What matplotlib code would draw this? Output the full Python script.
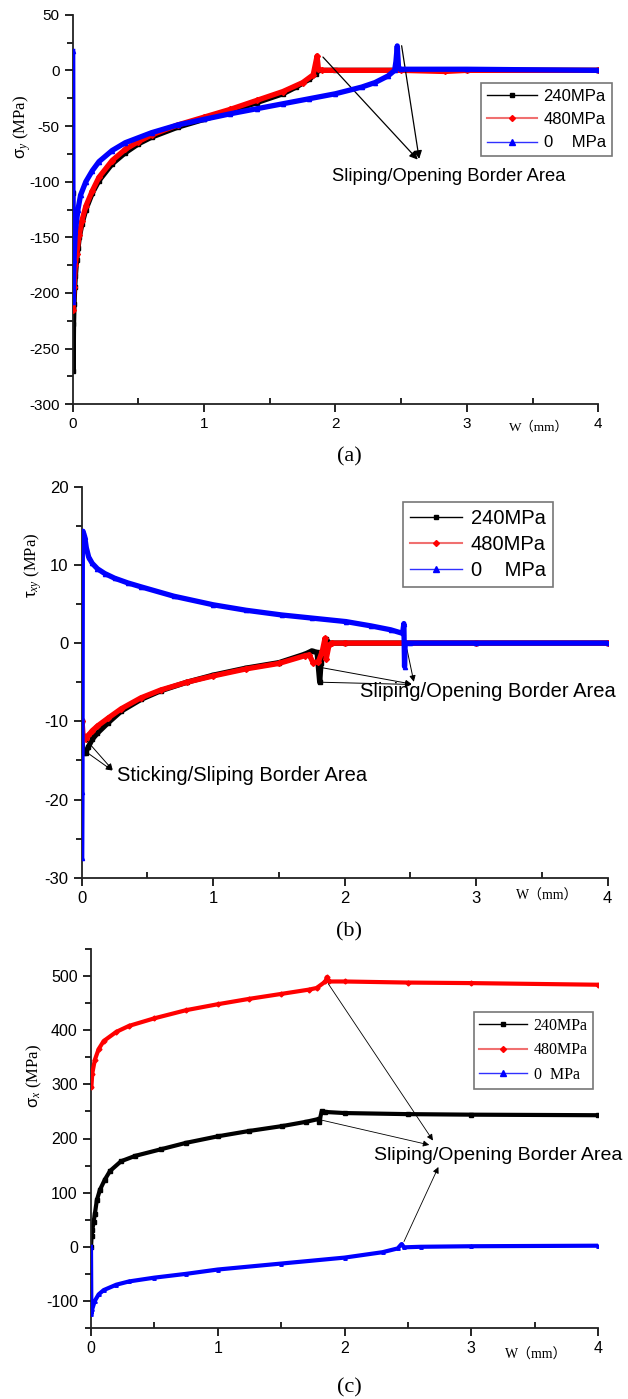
import matplotlib
matplotlib.use("Agg")
import matplotlib.pyplot as plt
from matplotlib.lines import Line2D
from matplotlib.ticker import MultipleLocator

plt.rcParams['font.family'] = ['Liberation Sans', 'Noto Sans CJK SC', 'DejaVu Sans']
plt.rcParams['mathtext.fontset'] = 'custom'
plt.rcParams['mathtext.rm'] = 'Liberation Serif'
plt.rcParams['mathtext.sf'] = 'Liberation Sans'
plt.rcParams['mathtext.it'] = 'Liberation Serif:italic'
plt.rcParams['mathtext.default'] = 'regular'
plt.rcParams['axes.unicode_minus'] = False

# ---------------- data (a) sigma_y ----------------
xa_240 = [0.0, 0.003, 0.006, 0.01, 0.015, 0.02, 0.03, 0.04, 0.05, 0.07, 0.1, 0.15, 0.2, 0.3,
          0.4, 0.5, 0.6, 0.8, 1.0, 1.2, 1.4, 1.6, 1.7, 1.8, 1.85, 1.87, 2.0, 3.0, 4.0]
ya_240 = [-110, -270, -228, -210, -195, -185, -170, -160, -150, -138, -125, -110, -99, -84,
          -74, -66, -60, -51, -44, -37, -29, -21, -15, -8, -3, 0, 0, 0, 0]
xa_480 = [0.003, 0.01, 0.02, 0.03, 0.05, 0.07, 0.1, 0.15, 0.2, 0.3, 0.4, 0.5, 0.6, 0.8, 1.0,
          1.2, 1.4, 1.6, 1.75, 1.83, 1.86, 1.87, 1.9, 2.5, 2.83, 3.0, 4.0]
ya_480 = [-215, -195, -175, -165, -148, -135, -122, -108, -96, -81, -71, -64, -58, -49, -42,
          -35, -27, -19, -11, -4, 13, 1, 0, 0, -1, 0, 0]
xa_0 = [0.0, 0.003, 0.01, 0.02, 0.04, 0.06, 0.1, 0.15, 0.2, 0.3, 0.4, 0.6, 0.8, 1.0, 1.2,
        1.4, 1.6, 1.8, 2.0, 2.2, 2.3, 2.4, 2.45, 2.46, 2.47, 2.48, 2.5, 3.0, 4.0]
ya_0 = [17, -208, -170, -145, -125, -112, -100, -90, -82, -72, -65, -56, -49, -44, -39,
        -34.5, -30, -25.5, -21, -15, -11, -5, 0, 8, 22, 2, 1, 1, 0]

# ---------------- data (b) tau_xy ----------------
xb_240 = [0.0, 0.005, 0.015, 0.03, 0.05, 0.08, 0.12, 0.2, 0.3, 0.45, 0.6, 0.8, 1.0, 1.25, 1.5,
          1.7, 1.75, 1.79, 1.81, 1.82, 1.84, 1.86, 1.88, 2.0, 3.0, 4.0]
yb_240 = [-10, -13.5, -14, -14, -13.3, -12.3, -11.5, -10.2, -8.7, -7.2, -6.1, -5.0, -4.1, -3.2, -2.5,
          -1.4, -1.0, -1.2, -5.0, -2.5, -1.0, 0.5, 0.0, 0.0, 0.0, 0.0]
xb_480 = [0.003, 0.01, 0.02, 0.03, 0.05, 0.08, 0.12, 0.2, 0.3, 0.45, 0.6, 0.8, 1.0, 1.25, 1.5,
          1.7, 1.73, 1.76, 1.8, 1.83, 1.85, 1.86, 1.88, 1.9, 2.0, 3.0, 4.0]
yb_480 = [-10, -11.8, -12.2, -12.2, -11.8, -11.2, -10.6, -9.6, -8.4, -7.0, -6.0, -5.0, -4.2, -3.3, -2.6,
          -1.6, -1.5, -2.5, -2.4, -1.0, 0.6, -2.0, -0.3, 0.0, 0.0, 0.0, 0.0]
xb_0 = [0.0, 0.002, 0.005, 0.01, 0.023, 0.035, 0.053, 0.08, 0.12, 0.175, 0.25, 0.35, 0.45, 0.7,
        1.0, 1.25, 1.52, 1.75, 2.01, 2.2, 2.35, 2.44, 2.45, 2.455, 2.46, 2.5, 3.0, 4.0]
yb_0 = [-27.5, -19, 14, 14.3, 13.6, 12.2, 11.0, 10.2, 9.5, 8.9, 8.3, 7.7, 7.2, 6.0,
        4.9, 4.2, 3.6, 3.2, 2.75, 2.2, 1.7, 1.25, 2.5, -3.0, 0.0, 0.0, 0.0, 0.0]

# ---------------- data (c) sigma_x ----------------
xc_240 = [0.0, 0.005, 0.01, 0.02, 0.03, 0.046, 0.07, 0.109, 0.15, 0.237, 0.35, 0.55, 0.75, 1.0,
          1.25, 1.51, 1.7, 1.795, 1.8, 1.82, 1.85, 2.0, 2.5, 3.0, 4.0]
yc_240 = [0, 20, 31, 45, 60, 86, 105, 124, 140, 158, 168, 180, 192, 204,
          214, 223, 231, 236, 230, 250, 249, 247, 245, 244, 243]
xc_480 = [0.003, 0.01, 0.03, 0.06, 0.1, 0.2, 0.3, 0.5, 0.75, 1.0, 1.25, 1.5, 1.72, 1.78,
          1.85, 1.86, 1.88, 2.0, 2.5, 3.0, 4.0]
yc_480 = [295, 320, 345, 365, 380, 397, 408, 422, 437, 448, 458, 467, 475, 478,
          490, 498, 490, 490, 488, 487, 484]
xc_0 = [0.0, 0.003, 0.01, 0.03, 0.06, 0.1, 0.2, 0.3, 0.5, 0.75, 1.0, 1.5, 2.0, 2.3,
        2.42, 2.45, 2.47, 2.6, 3.0, 4.0]
yc_0 = [0, -125, -115, -100, -88, -80, -70, -64, -57, -50, -42, -31, -20, -10,
        -3, 5, -1, 0, 1, 2]

labels = ['240MPa', '480MPa', '0    MPa']
colors = ['black', 'red', 'blue']
markers = ['s', 'D', '^']

W, H = 628, 1399
fig = plt.figure(figsize=(W / 100, H / 100), dpi=100)


def axes_px(left, right, top, bottom):
    return fig.add_axes([left / W, 1 - bottom / H, (right - left) / W, (bottom - top) / H])


def style(ax, ylim, ymaj, ymin, fs):
    ax.set_xlim(0, 4)
    ax.set_ylim(*ylim)
    ax.xaxis.set_major_locator(MultipleLocator(1))
    ax.xaxis.set_minor_locator(MultipleLocator(0.5))
    ax.yaxis.set_major_locator(MultipleLocator(ymaj))
    ax.yaxis.set_minor_locator(MultipleLocator(ymin))
    for s in ['top', 'right']:
        ax.spines[s].set_visible(False)
    for s in ['left', 'bottom']:
        ax.spines[s].set_linewidth(1.3)
        ax.spines[s].set_color('#222222')
    ax.tick_params(which='major', direction='out', length=6, width=1.2, labelsize=fs)
    ax.tick_params(axis='x', which='minor', direction='in', length=4, width=1.2)
    ax.tick_params(axis='y', which='minor', direction='out', length=4, width=1.2)
    ax.xaxis.set_major_formatter(plt.FuncFormatter(lambda v, p: '%g' % v))


def draw(ax, xs, ys, lw, ms):
    for i in range(3):
        ax.plot(xs[i], ys[i], color=colors[i], lw=lw, marker=markers[i], ms=ms,
                solid_joinstyle='round', zorder=2 + i)


def legend(ax, x, y, fs, labs, family=None, spacing=0.35, hl=2.6):
    handles = [Line2D([], [], color='black', lw=1, marker='s', ms=3),
               Line2D([], [], color='#f07070', lw=1.5, marker='D', markerfacecolor='red',
                      markeredgecolor='red', ms=3),
               Line2D([], [], color='#3030ff', lw=1, marker='^', markerfacecolor='blue',
                      markeredgecolor='blue', ms=4)]
    prop = {'size': fs}
    if family:
        prop['family'] = family
    leg = ax.legend(handles, labs, loc='upper left', bbox_to_anchor=(x, y), borderaxespad=0,
                    frameon=True, fancybox=False, prop=prop, handlelength=hl, handletextpad=0.4,
                    labelspacing=spacing, borderpad=0.35)
    leg.get_frame().set_edgecolor('#555555')
    leg.get_frame().set_linewidth(1.2)


arrow = dict(arrowstyle='-|>', color='black', lw=0.9, mutation_scale=12)
serif = 'Liberation Serif'

# ---------------- (a) ----------------
ax = axes_px(72.7, 598.3, 14.7, 404.3)
draw(ax, [xa_240, xa_480, xa_0], [ya_240, ya_480, ya_0], 3.8, 3)
style(ax, (-300, 50), 50, 25, 11)
ax.set_ylabel(r'$\mathsf{\sigma}_{\mathit{y}}$ (MPa) ', family=serif, fontsize=12)
ax.yaxis.set_label_coords(-0.0755, 0.712)
ax.set_xlabel('W（mm）', family=[serif, 'Noto Sans CJK SC'], fontsize=9.5)
ax.xaxis.set_label_coords(0.887, -0.043)
legend(ax, 0.777, 0.825, 12, labels, spacing=0.5, hl=3.0)
for xy in [(1.89, 13.8), (2.50, 24.6)]:
    ax.annotate('', xy=(2.64, -82), xytext=xy, arrowprops=arrow)
ax.text(1.97, -95, 'Sliping/Opening Border Area', fontsize=13.2, va='center', ha='left')

# ---------------- (b) ----------------
ax = axes_px(81.7, 607.7, 486.7, 877.7)
draw(ax, [xb_240, xb_480, xb_0], [yb_240, yb_480, yb_0], 3.8, 3)
style(ax, (-30, 20), 10, 5, 12)
ax.set_ylabel(r'$\mathsf{\tau}_{\mathit{xy}}$ (MPa) ', family=serif, fontsize=12)
ax.yaxis.set_label_coords(-0.0717, 0.801)
ax.set_xlabel('W（mm）', family=[serif, 'Noto Sans CJK SC'], fontsize=10)
ax.xaxis.set_label_coords(0.885, -0.031)
legend(ax, 0.611, 0.961, 14.5, labels)
for xy in [(1.78, -3.0), (1.81, -5.0), (2.47, -0.5)]:
    ax.annotate('', xy=(2.53, -5.3), xytext=xy, arrowprops=dict(arrow, lw=0.7, mutation_scale=9))
ax.text(2.12, -6.2, 'Sliping/Opening Border Area', fontsize=14.5, va='center', ha='left')
for xy in [(0.008, -13.6), (0.03, -12.3)]:
    ax.annotate('', xy=(0.25, -16.5), xytext=xy, arrowprops=dict(arrow, lw=0.7, mutation_scale=9))
ax.text(0.27, -16.9, 'Sticking/Sliping Border Area', fontsize=14.5, va='center', ha='left')

# ---------------- (c) ----------------
ax = axes_px(91, 598, 949, 1328)
draw(ax, [xc_240, xc_480, xc_0], [yc_240, yc_480, yc_0], 3.0, 2.5)
style(ax, (-150, 550), 100, 50, 11.5)
ax.set_ylabel(r'$\mathsf{\sigma}_{\mathit{x}}$ (MPa) ', family=serif, fontsize=12)
ax.yaxis.set_label_coords(-0.0927, 0.667)
ax.set_xlabel('W（mm）', family=[serif, 'Noto Sans CJK SC'], fontsize=10)
ax.xaxis.set_label_coords(0.878, -0.053)
legend(ax, 0.755, 0.834, 11.5, ['240MPa', '480MPa', '0  MPa'], family=serif, spacing=0.55, hl=3.0)
for start, tip in [((1.86, 490), (2.71, 192)), ((1.80, 235), (2.69, 187)), ((2.46, 5), (2.75, 152))]:
    ax.annotate('', xy=tip, xytext=start, arrowprops=dict(arrow, lw=0.6, mutation_scale=9))
ax.text(2.23, 168, 'Sliping/Opening Border Area', fontsize=14, va='center', ha='left')

# panel captions
for lab, ypx in [('(a)', 457), ('(b)', 932), ('(c)', 1388)]:
    fig.text(349 / W, 1 - ypx / H, lab, family='Liberation Serif', fontsize=16,
             ha='center', va='center')

fig.savefig('out.png', dpi=100)
